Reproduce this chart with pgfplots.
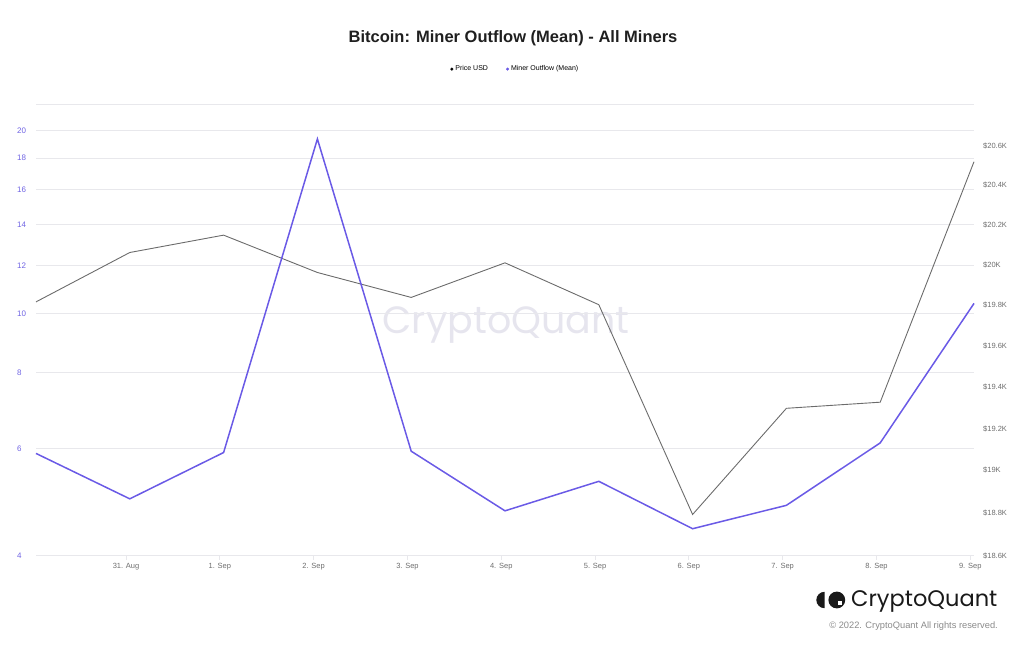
\documentclass[border=0pt]{standalone}
\usepackage{pgfplots}
\pgfplotsset{compat=1.18}
\usepackage{fontspec}
\setmainfont{Liberation Sans}
\newfontfamily\poppins{Poppins}
\definecolor{miner}{HTML}{6A5AE6}
\definecolor{price}{HTML}{6B6B6B}
\definecolor{gridc}{HTML}{E8E8EC}
\definecolor{labc}{HTML}{6E6E6E}
\definecolor{leftlab}{HTML}{6F63E3}
\definecolor{wm}{HTML}{E6E5EE}
\definecolor{copyc}{HTML}{8A8A8A}

\pgfplotstableread{
x miner
0 5.89
1 4.96
2 5.91
3 19.36
4 5.94
5 4.74
6 5.30
7 4.43
8 4.84
9 6.13
10 10.39
}\minertable

\pgfplotstableread{
x price
0 19.818
1 20.060
2 20.147
3 19.963
4 19.839
5 20.008
6 19.803
7 18.790
8 19.297
9 19.326
10 20.520
}\pricetable

\begin{document}
\begin{tikzpicture}[x=1pt,y=1pt]
\path[use as bounding box] (0,0) rectangle (1024,645);
\pgfplotsset{
  base/.style={
    scale only axis, width=938pt, height=451.4pt,
    at={(36pt,89.3pt)}, anchor=south west,
    xmin=0, xmax=10, clip=false,
    axis line style={draw=none},
    ticklabel style={font=\fontsize{8}{9}\selectfont},
  }
}
% watermark
\node[font=\poppins\fontsize{38}{42}\selectfont, text=wm] at (506,320) {CryptoQuant};

% axis 1: grid + left labels + x labels + legend
\begin{axis}[base,
  ymode=log, ymin=4, ymax=22.07,
  ytick={4,6,8,10,12,14,16,18,20},
  yticklabels={4,6,8,10,12,14,16,18,20},
  extra y ticks={22.07}, extra y tick labels={},
  ymajorgrids, grid style={gridc, line width=0.8pt},
  extra y tick style={grid=major, grid style={gridc, line width=0.8pt}},
  ytick style={draw=none},
  yticklabel style={anchor=west, inner sep=0pt, xshift=-19pt, text=leftlab},
  xtick={0.96,1.96,2.96,3.96,4.96,5.96,6.96,7.96,8.96,9.96},
  xticklabels={31. Aug,1. Sep,2. Sep,3. Sep,4. Sep,5. Sep,6. Sep,7. Sep,8. Sep,9. Sep},
  xtick pos=bottom, xtick align=outside, major tick length=4pt,
  xtick style={gridc, line width=0.8pt},
  xticklabel style={text=labc, font=\fontsize{7.5}{9}\selectfont},
  legend image code/.code={\fill[#1] (0.12cm,0cm) circle (1.3pt);},
  legend style={at={(0.511,1.078)}, anchor=center, draw=none, fill=none,
    legend columns=2, font=\fontsize{7}{8}\selectfont,
    /tikz/every even column/.append style={column sep=16pt}},
  legend cell align=left,
]
\addlegendimage{black, fill=black}
\addlegendentry{Price USD}
\addlegendimage{miner, fill=miner}
\addlegendentry{Miner Outflow (Mean)}
\end{axis}

% axis 2: price, right
\begin{axis}[base,
  ymode=log, ymin=18.6, ymax=20.8168,
  axis y line*=right, hide x axis,
  ytick={18.6,18.8,19,19.2,19.4,19.6,19.8,20,20.2,20.4,20.6},
  yticklabels={\$18.6K,\$18.8K,\$19K,\$19.2K,\$19.4K,\$19.6K,\$19.8K,\$20K,\$20.2K,\$20.4K,\$20.6K},
  ytick style={draw=none},
  yticklabel style={anchor=west, inner sep=0pt, xshift=9pt, text=labc, font=\fontsize{7.5}{9}\selectfont},
]
\addplot[price, line width=0.9pt] table[x=x,y=price] {\pricetable};
\end{axis}

% axis 3: miner outflow, left scale
\begin{axis}[base,
  ymode=log, ymin=4, ymax=22.07,
  hide axis,
]
\addplot[miner, line width=1.5pt] table[x=x,y=miner] {\minertable};
\end{axis}

% title
\node[font=\bfseries\fontsize{16.5}{20}\selectfont, text=black!88] at (513,607) {Bitcoin: Miner Outflow (Mean) - All Miners};

% logo
\fill[black!90] (824.5,45) ++(90:8.2) arc (90:270:8.2) -- cycle;
\fill[black!90] (836.8,45) circle (8.4);
\fill[white] (837.6,44.2) rectangle (841.8,40.0);
\node[anchor=west, inner sep=0pt, font=\poppins\fontsize{22.5}{26}\selectfont, text=black!90] at (851,44) {CryptoQuant};
\node[anchor=east, inner sep=0pt, font=\fontsize{9.3}{11}\selectfont, text=copyc] at (998,19) {© 2022. CryptoQuant All rights reserved.};
\end{tikzpicture}
\end{document}
